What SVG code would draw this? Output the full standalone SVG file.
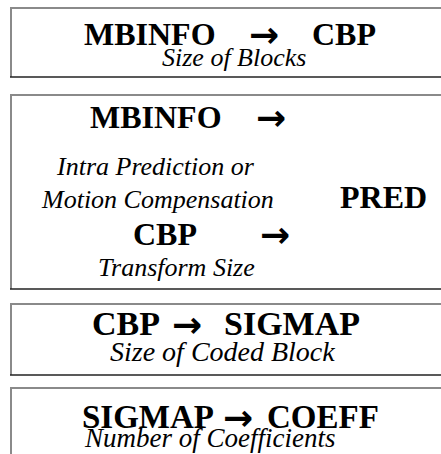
<svg xmlns="http://www.w3.org/2000/svg" width="441" height="454" viewBox="0 0 441 454">
<style>
.t{font-family:"Liberation Serif","Times New Roman",serif;font-weight:bold;font-size:32px;fill:#000}
.a{font-family:"DejaVu Sans",sans-serif;font-weight:bold;font-size:36px;fill:#000}
.s{font-family:"Liberation Serif","Times New Roman",serif;font-style:italic;font-size:26px;fill:#000}
.tl{stroke:#8a8a8a;stroke-width:2;fill:none}
.bl{stroke:#222;stroke-width:1.5;fill:none}
</style>
<rect width="441" height="454" fill="#fff"/>
<g id="box1">
<path class="tl" d="M11,77 V8 H441"/>
<path class="bl" d="M10,77 H441"/>
<text class="t" x="84" y="45">MBINFO</text>
<text class="a" x="249" y="47">→</text>
<text class="t" x="312" y="45">CBP</text>
<text class="s" x="162" y="66">Size of Blocks</text>
</g>
<g id="box2">
<path class="tl" d="M11,289 V95 H441"/>
<path class="bl" d="M10,289 H441"/>
<text class="t" x="90" y="128">MBINFO</text>
<text class="a" x="256" y="130">→</text>
<text class="s" x="57" y="175">Intra Prediction or</text>
<text class="s" x="42" y="208">Motion Compensation</text>
<text class="t" x="340" y="208">PRED</text>
<text class="t" x="133" y="245">CBP</text>
<text class="a" x="260" y="247">→</text>
<text class="s" x="98" y="276">Transform Size</text>
</g>
<g id="box3">
<path class="tl" d="M11,375 V304 H441"/>
<path class="bl" d="M10,375 H441"/>
<text class="t" style="font-size:34px" x="92" y="335">CBP</text>
<text class="a" x="172" y="337">→</text>
<text class="t" style="font-size:34px" x="224" y="335">SIGMAP</text>
<text class="s" style="font-size:28px" x="110" y="361">Size of Coded Block</text>
</g>
<g id="box4">
<path class="tl" d="M11,454 V388 H441"/>
<text class="t" style="font-size:33px" x="82" y="428">SIGMAP</text>
<text class="a" x="223" y="430">→</text>
<text class="t" style="font-size:33px" x="267" y="428">COEFF</text>
<text class="s" style="font-size:27px" x="85" y="447">Number of Coefficients</text>
</g>
<g id="connectors"></g>
</svg>
